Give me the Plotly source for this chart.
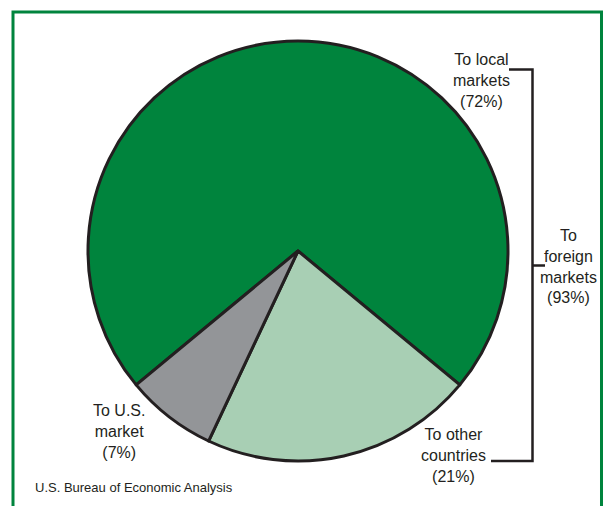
import plotly.graph_objects as go

# Destination of sales, share of total
labels = ["To local markets", "To other countries", "To U.S. market"]
values = [72, 21, 7]
colors = ["#00843D", "#A8CFB4", "#939598"]
foreign_label = "To<br>foreign<br>markets<br>(93%)"
source_note = "U.S. Bureau of Economic Analysis"

W, H = 603, 506
INK = "#231F20"


def px(x):
    return x / W


def py(y):
    return 1 - y / H


fig = go.Figure(
    go.Pie(
        labels=labels,
        values=values,
        sort=False,
        direction="clockwise",
        rotation=-129.6,
        marker=dict(colors=colors, line=dict(color=INK, width=3)),
        textinfo="none",
        hoverinfo="label+percent",
        domain=dict(x=[px(298 - 210), px(298 + 210)], y=[py(251 + 210), py(251 - 210)]),
    )
)

font = dict(family="Liberation Sans, Arial, sans-serif", size=16, color=INK)

slice_text = [
    ("To local<br>markets<br>(%d%%)" % values[0], 481, 81),
    ("To other<br>countries<br>(%d%%)" % values[1], 453, 455),
    ("To U.S.<br>market<br>(%d%%)" % values[2], 119, 431),
    (foreign_label, 568, 266),
]
annotations = [
    dict(text=t, x=px(x), y=py(y), xref="paper", yref="paper", showarrow=False,
         align="center", xanchor="center", yanchor="middle", font=font)
    for t, x, y in slice_text
]
annotations.append(
    dict(text=source_note, x=px(33), y=py(487), xref="paper", yref="paper",
         showarrow=False, xanchor="left", yanchor="middle",
         font=dict(family="Liberation Sans, Arial, sans-serif", size=13, color=INK))
)

bracket = dict(color=INK, width=2.5)
frame = dict(color="#00843D", width=3)
shapes = [
    # bracket grouping local + other countries as foreign markets
    dict(type="path", xref="paper", yref="paper", line=bracket,
         path="M %f,%f L %f,%f L %f,%f L %f,%f" % (
             px(509), py(69.5), px(532.5), py(69.5), px(532.5), py(461), px(491), py(461))),
    dict(type="line", xref="paper", yref="paper", line=bracket,
         x0=px(532.5), y0=py(265.5), x1=px(545), y1=py(265.5)),
    # green panel frame (open at the bottom)
    dict(type="path", xref="paper", yref="paper", line=frame,
         path="M %f,%f L %f,%f L %f,%f L %f,%f" % (
             px(13), py(520), px(13), py(12), px(601.5), py(12), px(601.5), py(520))),
]

fig.update_layout(
    width=W, height=H,
    margin=dict(l=0, r=0, t=0, b=0),
    paper_bgcolor="white",
    plot_bgcolor="white",
    showlegend=False,
    annotations=annotations,
    shapes=shapes,
)

fig.write_html("out.html")
